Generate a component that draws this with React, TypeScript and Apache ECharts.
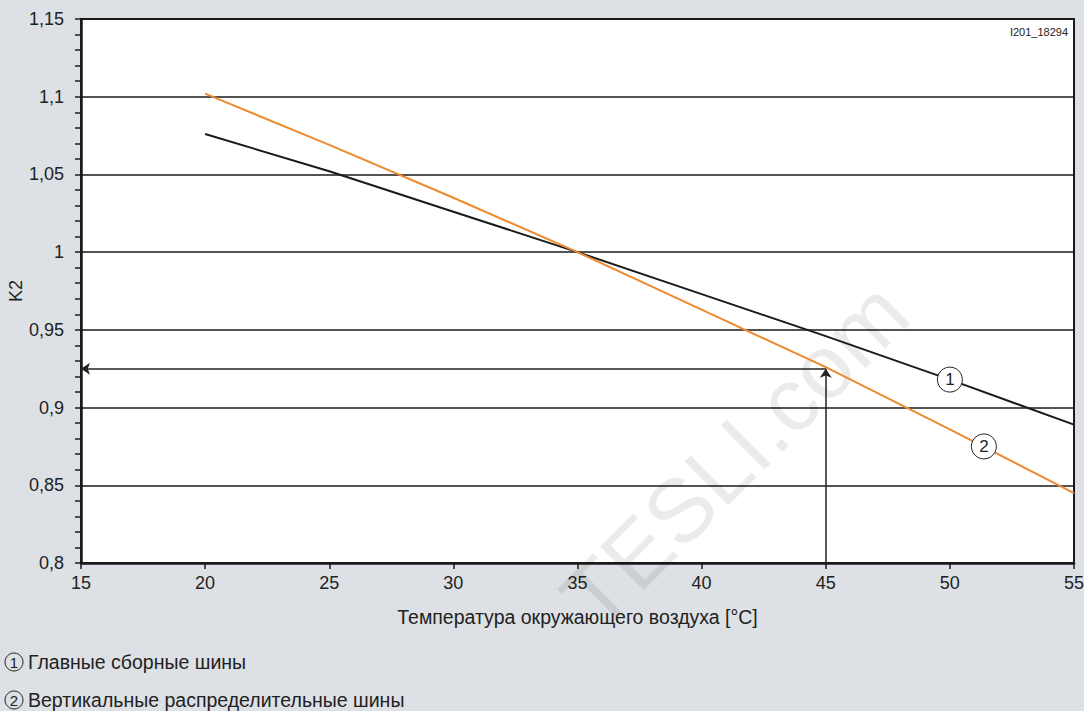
import React, { useEffect, useRef } from "react";
import * as echarts from "echarts";

// ---- data ----
const temperatures = [20, 25, 30, 35, 40, 45, 50, 55];
const k2MainBusbars = [1.076, 1.052, 1.026, 1.0, 0.973, 0.946, 0.918, 0.889];
const k2VerticalBusbars = [1.102, 1.069, 1.035, 1.0, 0.963, 0.926, 0.886, 0.845];
const seriesNames = ["Главные сборные шины", "Вертикальные распределительные шины"];
const seriesMarks = ["1", "2"];
const markPositions = [
  [50, 0.918],
  [51.37, 0.875],
];
const exampleTemp = 45;
const exampleK2 = 0.925;
const xRange = [15, 55];
const yRange = [0.8, 1.15];
const xTitle = "Температура окружающего воздуха [°C]";
const yTitle = "K2";
const figureId = "I201_18294";
const watermark = "TESLI.com";

const FONT = "Liberation Sans, Arial, sans-serif";
const INK = "#222222";

export default function App() {
  const ref = useRef<HTMLDivElement>(null);

  useEffect(() => {
    if (!ref.current) return;
    const chart = echarts.init(ref.current, undefined, { renderer: "svg" });

    const pairs = (ys: number[]) => temperatures.map((t, i) => [t, ys[i]]);
    const markStyle = (label: string, pos: number[]) => ({
      coord: pos,
      symbol: "circle",
      symbolSize: 25,
      itemStyle: { color: "#ffffff", borderColor: INK, borderWidth: 1 },
      label: {
        show: true,
        position: "inside",
        formatter: label,
        color: INK,
        fontSize: 17,
        fontFamily: FONT,
      },
    });

    const option: any = {
      animation: false,
      backgroundColor: "#dde1e5",
      textStyle: { fontFamily: FONT },
      grid: {
        left: 81,
        right: 10,
        top: 19,
        bottom: 148,
        show: true,
        backgroundColor: "#ffffff",
        borderColor: "#1a1a1a",
        borderWidth: 2,
        containLabel: false,
        outerBoundsMode: "none",
      },
      xAxis: {
        type: "value",
        min: xRange[0],
        max: xRange[1],
        interval: 5,
        name: xTitle,
        nameLocation: "middle",
        nameGap: 44,
        nameMoveOverlap: false,
        nameTextStyle: { fontSize: 19.5, color: INK, fontFamily: FONT },
        axisLine: { show: true, lineStyle: { color: "#1a1a1a", width: 2.5 } },
        axisTick: { show: true, inside: false, length: 6, lineStyle: { color: "#1a1a1a", width: 1.5 } },
        axisLabel: {
          show: true,
          fontSize: 18,
          color: INK,
          margin: 11,
          fontFamily: FONT,
          showMinLabel: true,
          showMaxLabel: true,
        },
        splitLine: { show: false },
      },
      yAxis: {
        type: "value",
        min: yRange[0],
        max: yRange[1],
        interval: 0.05,
        name: yTitle,
        nameLocation: "middle",
        nameGap: 56,
        nameMoveOverlap: false,
        nameTextStyle: { fontSize: 18, color: INK, fontFamily: FONT },
        axisLine: { show: true, lineStyle: { color: "#1a1a1a", width: 2.5 } },
        axisTick: { show: true, inside: false, length: 6, lineStyle: { color: "#1a1a1a", width: 1.5 } },
        minorTick: { show: true, splitNumber: 5, length: 6, lineStyle: { color: "#1a1a1a", width: 1.5 } },
        axisLabel: {
          show: true,
          fontSize: 18,
          color: INK,
          margin: 17,
          fontFamily: FONT,
          showMinLabel: true,
          showMaxLabel: true,
          formatter: (v: number) => String(+v.toFixed(2)).replace(".", ","),
        },
        splitLine: { show: true, lineStyle: { color: "#1a1a1a", width: 1.5 } },
      },
      series: [
        {
          name: seriesNames[0],
          type: "line",
          data: pairs(k2MainBusbars),
          showSymbol: false,
          symbol: "none",
          lineStyle: { color: "#1a1a1a", width: 2 },
          z: 3,
          markPoint: {
            silent: true,
            data: [markStyle(seriesMarks[0], markPositions[0])],
          },
        },
        {
          name: seriesNames[1],
          type: "line",
          data: pairs(k2VerticalBusbars),
          showSymbol: false,
          symbol: "none",
          lineStyle: { color: "#ee8a2d", width: 2 },
          z: 3,
          markPoint: {
            silent: true,
            data: [markStyle(seriesMarks[1], markPositions[1])],
          },
        },
        {
          name: "arrows",
          type: "line",
          data: [],
          markLine: {
            silent: true,
            symbol: ["none", "arrow"],
            symbolSize: 9,
            label: { show: false },
            lineStyle: { color: INK, width: 1.5, type: "solid" },
            data: [
              [{ coord: [exampleTemp, yRange[0]] }, { coord: [exampleTemp, exampleK2] }],
              [{ coord: [exampleTemp, exampleK2] }, { coord: [xRange[0], exampleK2] }],
            ],
          },
        },
      ],
      graphic: [
        {
          type: "text",
          x: 735,
          y: 455,
          rotation: Math.PI / 4,
          silent: true,
          z: 1,
          style: {
            text: watermark,
            fontSize: 90,
            fontFamily: FONT,
            fill: "rgba(0,0,0,0.08)",
            align: "center",
            verticalAlign: "middle",
          },
        },
        {
          type: "text",
          right: 16,
          top: 26,
          style: { text: figureId, fontSize: 11, fontFamily: FONT, fill: INK },
        },
        ...seriesNames.flatMap((name, i) => [
          {
            type: "circle",
            shape: { cx: 14, cy: 662 + i * 38, r: 9 },
            style: { fill: "none", stroke: INK, lineWidth: 1 },
          },
          {
            type: "text",
            x: 14,
            y: 662 + i * 38,
            style: {
              text: seriesMarks[i],
              fontSize: 15,
              fontFamily: FONT,
              fill: INK,
              align: "center",
              verticalAlign: "middle",
            },
          },
          {
            type: "text",
            x: 28,
            y: 662 + i * 38,
            style: {
              text: name,
              fontSize: 19.5,
              fontFamily: FONT,
              fill: INK,
              align: "left",
              verticalAlign: "middle",
            },
          },
        ]),
      ],
    };

    chart.setOption(option);
    return () => chart.dispose();
  }, []);

  return (
    <div
      ref={ref}
      style={{ position: "fixed", left: 0, top: 0, width: 1084, height: 711 }}
    />
  );
}
